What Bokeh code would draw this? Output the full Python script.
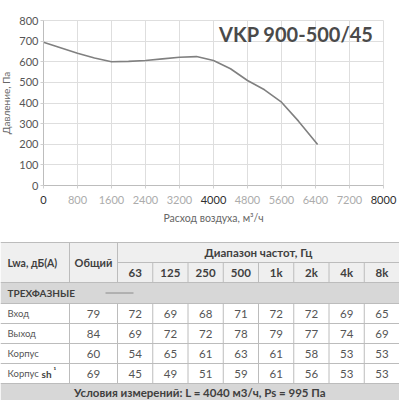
from bokeh.plotting import figure
from bokeh.models import Range1d, FixedTicker, Label
from bokeh.core.properties import value
from bokeh.embed import file_html
from bokeh.resources import INLINE

FONT = "Lato"

# ---------------- data ----------------
airflow = [0, 400, 800, 1200, 1600, 2000, 2400, 2800, 3200, 3600, 4000, 4400, 4800, 5200, 5600, 6000, 6450]
pressure = [695, 668, 641, 618, 600, 602, 606, 614, 622, 625, 606, 566, 509, 464, 404, 312, 199]
title_text = "VKP 900-500/45"
x_ticks = [0, 800, 1600, 2400, 3200, 4000, 4800, 5600, 6400, 7200, 8000]
y_ticks = [0, 100, 200, 300, 400, 500, 600, 700, 800]
dark_x_ticks = [0, 4000, 8000]
x_label = "Расход воздуха, м³/ч"
y_label = "Давление, Па"

freqs = ["63", "125", "250", "500", "1k", "2k", "4k", "8k"]
row_labels = ["Вход", "Выход", "Корпус", "Корпус"]
total = [79, 84, 60, 69]
vhod = [72, 69, 68, 71, 72, 72, 69, 65]
vyhod = [69, 72, 72, 78, 79, 77, 74, 69]
korpus = [54, 65, 61, 63, 61, 58, 53, 53]
korpus_sh = [45, 49, 51, 59, 61, 56, 53, 53]
group_label = "ТРЕХФАЗНЫЕ"
head_lwa = "Lwa, дБ(A)"
head_total = "Общий"
head_freq = "Диапазон частот, Гц"
footer = "Условия измерений: L = 4040 м3/ч, Ps = 995 Па"

# ---------------- chart ----------------
X_MAX, Y_MAX = 8000, 800
CW, CH = 399, 238
FL, FR, FT, FB = 43, 383, 20, 185          # plotting area in pixels
ux = X_MAX / (FR - FL)
uy = Y_MAX / (FB - FT)
TICK_OUT, STANDOFF = 3, 4

p = figure(width=CW, height=CH,
           x_range=Range1d(-FL * ux, X_MAX + (CW - FR) * ux),
           y_range=Range1d(-(CH - FB) * uy, Y_MAX + FT * uy),
           output_backend="svg", toolbar_location=None, min_border=0)
p.title.visible = False
p.outline_line_color = None

p.xgrid.ticker = FixedTicker(ticks=x_ticks)
p.ygrid.ticker = FixedTicker(ticks=y_ticks)
p.grid.grid_line_color = "#dedede"
p.grid.grid_line_width = 1
try:
    p.xgrid.cross_bounds = (0, Y_MAX)
    p.ygrid.cross_bounds = (0, X_MAX)
except Exception:
    p.grid.visible = False
    p.segment(x0=x_ticks, x1=x_ticks, y0=[0] * len(x_ticks), y1=[Y_MAX] * len(x_ticks),
              line_color="#dedede", line_width=1)
    p.segment(x0=[0] * len(y_ticks), x1=[X_MAX] * len(y_ticks), y0=y_ticks, y1=y_ticks,
              line_color="#dedede", line_width=1)

p.line(airflow, pressure, line_color="#808080", line_width=1.6)

for ax in (p.xaxis[0], p.yaxis[0]):
    ax.fixed_location = 0
    ax.axis_line_color = "#bdbdbd"
    ax.major_tick_line_color = "#d0d0d0"
    ax.major_tick_in = 0
    ax.major_tick_out = TICK_OUT
    ax.minor_tick_line_color = None
    ax.major_label_text_font = FONT
    ax.major_label_text_font_size = "11px"
    ax.axis_label_text_font = FONT
    ax.axis_label_text_font_style = "normal"
    ax.axis_label_text_color = "#666666"

p.xaxis.bounds = (0, X_MAX)
p.yaxis.bounds = (0, Y_MAX)
p.xaxis.ticker = FixedTicker(ticks=x_ticks)
p.yaxis.ticker = FixedTicker(ticks=y_ticks)
p.xaxis.major_label_standoff = STANDOFF
p.yaxis.major_label_standoff = 2
p.xaxis.major_label_text_color = "#acacac"
p.yaxis.major_label_text_color = "#555555"
p.xaxis.major_label_overrides = {t: (" " if t in dark_x_ticks else str(t)) for t in x_ticks}
p.xaxis.axis_label = x_label
p.yaxis.axis_label = y_label
p.xaxis.axis_label_text_font_size = "10.5px"
p.yaxis.axis_label_text_font_size = "10px"
p.xaxis.axis_label_standoff = 3
p.yaxis.axis_label_standoff = 4

# emphasised tick labels (0, 4000, 8000) drawn in a darker colour on the tick-label row
p.text(x=dark_x_ticks, y=[-(TICK_OUT + STANDOFF + 3) * uy] * len(dark_x_ticks),
       text=[str(v) for v in dark_x_ticks], text_align="center", text_baseline="top",
       text_font=value(FONT), text_font_size="11px", text_color="#2e2e2e")

p.add_layout(Label(x=7765, y=795, text=title_text, text_align="right", text_baseline="top",
                   text_font=FONT, text_font_style="bold", text_font_size="20px",
                   text_color="#4a4a4a"))

# ---------------- table ----------------
TW, T0, T1 = 399, 238, 400
t = figure(width=TW, height=T1 - T0, x_range=Range1d(0, TW), y_range=Range1d(T1, T0),
           output_backend="svg", toolbar_location=None, min_border=0,
           x_axis_type=None, y_axis_type=None)
t.title.visible = False
t.grid.visible = False
t.outline_line_color = None

first_w, total_w = 69, 48
col_w = (TW - first_w - total_w) / len(freqs)
edges = [0, first_w, first_w + total_w] + [first_w + total_w + col_w * (k + 1) for k in range(len(freqs))]
freq_centers = [(edges[2 + k] + edges[3 + k]) / 2 for k in range(len(freqs))]
total_center = (edges[1] + edges[2]) / 2

h_top, h_mid, h_bot, g_bot = 242, 262, 282, 303
row_h = 20
data_tops = [g_bot + row_h * i for i in range(len(row_labels))]
f_top = data_tops[-1] + row_h
f_bot = T1

LINE = "#bcbcbc"
t.quad(left=[0], right=[TW], top=[h_top], bottom=[h_bot], fill_color="#efefef", line_color=None)
t.quad(left=[0], right=[TW], top=[h_bot], bottom=[g_bot], fill_color="#d7d7d7", line_color=None)
t.quad(left=[0], right=[TW], top=[f_top], bottom=[f_bot], fill_color="#d7d7d7", line_color=None)

hx0, hx1, hy = [], [], []
for y in [h_top, h_bot, g_bot] + data_tops[1:] + [f_top]:
    hx0.append(0); hx1.append(TW); hy.append(y)
hx0.append(edges[2]); hx1.append(TW); hy.append(h_mid)
t.segment(x0=hx0, x1=hx1, y0=hy, y1=hy, line_color=LINE, line_width=1)

vx, vy0, vy1 = [], [], []
for e in edges[1:3]:
    vx.append(e); vy0.append(h_top); vy1.append(h_bot)
for e in edges[3:-1]:
    vx.append(e); vy0.append(h_mid); vy1.append(h_bot)
for e in edges[1:-1]:
    vx.append(e); vy0.append(g_bot); vy1.append(f_top)
t.segment(x0=vx, x1=vx, y0=vy0, y1=vy1, line_color=LINE, line_width=1)

BOLD_C = "#3f3f3f"
NORM_C = "#555555"
TX = 7

def txt(xs, ys, texts, align="center", bold=False, size="11px", color=None):
    t.text(x=xs, y=ys, text=texts, text_align=align, text_baseline="middle",
           text_font=value(FONT), text_font_style="bold" if bold else "normal",
           text_font_size=size, text_color=color or (BOLD_C if bold else NORM_C))

txt([TX], [(h_top + h_bot) / 2], [head_lwa], align="left", bold=True, size="10.5px")
txt([total_center], [(h_top + h_bot) / 2], [head_total], bold=True, size="11px")
txt([(edges[2] + TW) / 2], [(h_top + h_mid) / 2], [head_freq], bold=True, size="11.5px")
txt(freq_centers, [(h_mid + h_bot) / 2] * len(freqs), freqs, bold=True, size="11.5px")
txt([TX], [(h_bot + g_bot) / 2], [group_label], align="left", bold=True, size="10px")
t.segment(x0=[105], x1=[133], y0=[(h_bot + g_bot) / 2], y1=[(h_bot + g_bot) / 2],
          line_color="#8a8a8a", line_width=1)

rows = [vhod, vyhod, korpus, korpus_sh]
for i, (lab, tot, vals) in enumerate(zip(row_labels, total, rows)):
    yc = data_tops[i] + row_h / 2
    txt([TX], [yc], [lab], align="left", size="9.5px")
    txt([total_center], [yc], [str(tot)], size="11.5px")
    txt(freq_centers, [yc] * len(vals), [str(v) for v in vals], size="11.5px")

yc_sh = data_tops[3] + row_h / 2
txt([41], [yc_sh], ["sh"], align="left", bold=True, size="10px")
txt([53], [yc_sh - 3], ["¹"], align="left", bold=True, size="8px")

txt([TW / 2], [(f_top + f_bot) / 2], [footer], bold=True, size="11.5px")

open("out.html", "w").write(file_html([p, t], INLINE))
